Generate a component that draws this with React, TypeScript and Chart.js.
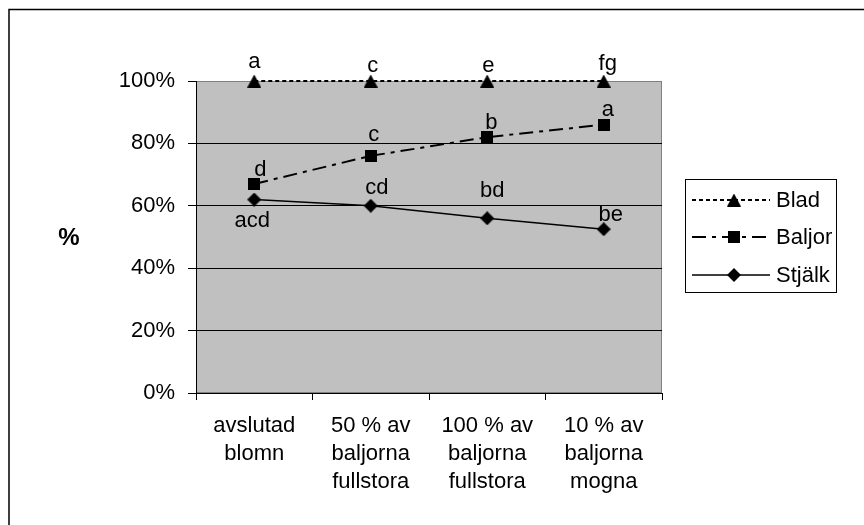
import { useEffect, useRef } from "react";
import { Chart, registerables } from "chart.js";

Chart.register(...registerables);

// Growth stages on the x axis (multi-line labels)
const categories: string[][] = [
  ["avslutad", "blomn"],
  ["50 % av", "baljorna", "fullstora"],
  ["100 % av", "baljorna", "fullstora"],
  ["10 % av", "baljorna", "mogna"],
];

// Series values, in percent
const seriesNames = ["Blad", "Baljor", "Stjälk"];
const bladValues = [100, 100, 100, 100];
const baljorValues = [67, 76, 82, 86];
const stjalkValues = [62, 60, 56, 52.5];

// Significance letters printed next to each point
const bladLetters = ["a", "c", "e", "fg"];
const baljorLetters = ["d", "c", "b", "a"];
const stjalkLetters = ["acd", "cd", "bd", "be"];

// Y axis
const yMin = 0;
const yMax = 100;
const yStep = 20;
const yTitle = "%";

const FONT = '"Liberation Sans", Arial, Helvetica, sans-serif';

type MarkerKind = "triangle" | "square" | "diamond";

function makeMarker(kind: MarkerKind): HTMLCanvasElement {
  const c = document.createElement("canvas");
  const ctx = c.getContext("2d")!;
  if (kind === "triangle") {
    c.width = 14;
    c.height = 13;
    ctx.beginPath();
    ctx.moveTo(7, 0);
    ctx.lineTo(14, 13);
    ctx.lineTo(0, 13);
    ctx.closePath();
  } else if (kind === "square") {
    c.width = 12;
    c.height = 12;
    ctx.beginPath();
    ctx.rect(0, 0, 12, 12);
  } else {
    c.width = 14;
    c.height = 14;
    ctx.beginPath();
    ctx.moveTo(7, 0);
    ctx.lineTo(14, 7);
    ctx.lineTo(7, 14);
    ctx.lineTo(0, 7);
    ctx.closePath();
  }
  ctx.fillStyle = "#000";
  ctx.fill();
  return c;
}

export default function App() {
  const canvasRef = useRef<HTMLCanvasElement | null>(null);

  useEffect(() => {
    document.body.style.margin = "0";
    const canvas = canvasRef.current;
    if (!canvas) return;

    const markers = {
      triangle: makeMarker("triangle"),
      square: makeMarker("square"),
      diamond: makeMarker("diamond"),
    };

    const dashes: number[][] = [[4, 3], [14, 6, 4, 6], []];
    const markerList = [markers.triangle, markers.square, markers.diamond];
    const letters = [bladLetters, baljorLetters, stjalkLetters];
    // per-letter nudges [dx, baseline dy] from the point
    const letterOffsets: number[][][] = [
      [[0, -13], [2, -9], [1, -9], [4, -11]],
      [[6, -8], [3, -15], [4, -8], [4, -9]],
      [[-2, 27], [6, -12], [5, -21], [7, -8]],
    ];

    const decorPlugin = {
      id: "decor",
      beforeDraw(chart: any) {
        const { ctx, chartArea } = chart;
        ctx.save();
        ctx.fillStyle = "#fff";
        ctx.fillRect(0, 0, chart.width, chart.height);
        // outer frame (top and left edges visible)
        ctx.strokeStyle = "#000";
        ctx.lineWidth = 1.5;
        ctx.strokeRect(9, 9.5, chart.width + 20, chart.height + 20);
        // plot area
        ctx.fillStyle = "#C0C0C0";
        ctx.fillRect(
          chartArea.left,
          chartArea.top,
          chartArea.right - chartArea.left,
          chartArea.bottom - chartArea.top
        );
        ctx.strokeStyle = "#808080";
        ctx.lineWidth = 1;
        ctx.strokeRect(
          chartArea.left + 0.5,
          chartArea.top + 0.5,
          chartArea.right - chartArea.left - 1,
          chartArea.bottom - chartArea.top - 1
        );
        // y axis title
        ctx.fillStyle = "#000";
        ctx.font = `bold 24px ${FONT}`;
        ctx.textAlign = "center";
        ctx.textBaseline = "middle";
        ctx.fillText(yTitle, 69, 238);
        ctx.restore();
      },
      afterDatasetsDraw(chart: any) {
        const { ctx } = chart;
        ctx.save();
        ctx.fillStyle = "#000";
        ctx.font = `22px ${FONT}`;
        ctx.textAlign = "center";
        ctx.textBaseline = "alphabetic";
        chart.data.datasets.forEach((_ds: any, di: number) => {
          const meta = chart.getDatasetMeta(di);
          meta.data.forEach((pt: any, i: number) => {
            const [dx, dy] = letterOffsets[di][i];
            ctx.fillText(letters[di][i], pt.x + dx, pt.y + dy);
          });
        });

        // legend
        const box = { x: 685.5, y: 179.5, w: 151, h: 113 };
        ctx.fillStyle = "#fff";
        ctx.fillRect(box.x, box.y, box.w, box.h);
        ctx.strokeStyle = "#000";
        ctx.lineWidth = 1;
        ctx.strokeRect(box.x, box.y, box.w, box.h);
        const rows = [200, 237, 275];
        seriesNames.forEach((name, i) => {
          const y = rows[i];
          ctx.beginPath();
          ctx.setLineDash(dashes[i]);
          ctx.lineWidth = i === 2 ? 1.5 : 2;
          ctx.strokeStyle = "#000";
          ctx.moveTo(692, y);
          ctx.lineTo(770, y);
          ctx.stroke();
          ctx.setLineDash([]);
          const m = markerList[i];
          ctx.drawImage(m, 734 - m.width / 2, y - m.height / 2);
          ctx.fillStyle = "#000";
          ctx.font = `22px ${FONT}`;
          ctx.textAlign = "left";
          ctx.textBaseline = "middle";
          ctx.fillText(name, 776, y + 1);
        });
        ctx.restore();
      },
    };

    const values = [bladValues, baljorValues, stjalkValues];

    const chart = new Chart(canvas, {
      type: "line",
      data: {
        labels: categories,
        datasets: seriesNames.map((name, i) => ({
          label: name,
          data: values[i],
          borderColor: "#000",
          backgroundColor: "#000",
          borderWidth: i === 2 ? 1.5 : 2,
          borderDash: dashes[i],
          pointStyle: markerList[i],
          pointRadius: 7,
          pointHoverRadius: 7,
          tension: 0,
          fill: false,
          clip: false as any,
        })),
      },
      options: {
        responsive: false,
        animation: false,
        devicePixelRatio: 1,
        layout: { padding: { top: 81, right: 202, bottom: 0, left: 0 } },
        plugins: {
          legend: { display: false },
          tooltip: { enabled: false },
          title: { display: false },
        },
        scales: {
          x: {
            type: "category",
            offset: true,
            grid: {
              offset: true,
              drawOnChartArea: false,
              drawTicks: true,
              tickLength: 7,
              color: "#000",
            },
            border: { color: "#000", width: 1 },
            ticks: {
              color: "#000",
              font: { family: FONT, size: 22, lineHeight: 28 / 22 },
              padding: 12,
              maxRotation: 0,
              minRotation: 0,
              autoSkip: false,
            },
            afterFit(scale: any) {
              scale.height = 132;
            },
          },
          y: {
            min: yMin,
            max: yMax,
            grid: {
              // the top edge keeps the grey plot-area border instead of a black rule
              color: (c: any) => (c.tick && c.tick.value === yMax ? "rgba(0,0,0,0)" : "#000"),
              tickColor: "#000",
              lineWidth: 1,
              tickLength: 8,
            },
            border: { color: "#000", width: 1 },
            ticks: {
              stepSize: yStep,
              color: "#000",
              font: { family: FONT, size: 22 },
              padding: 13,
              callback: (v: any) => `${v}%`,
            },
            afterFit(scale: any) {
              scale.width = 196;
            },
          },
        },
      },
      plugins: [decorPlugin],
    });

    return () => chart.destroy();
  }, []);

  return (
    <canvas
      ref={canvasRef}
      width={864}
      height={525}
      style={{ display: "block", width: 864, height: 525 }}
    />
  );
}
